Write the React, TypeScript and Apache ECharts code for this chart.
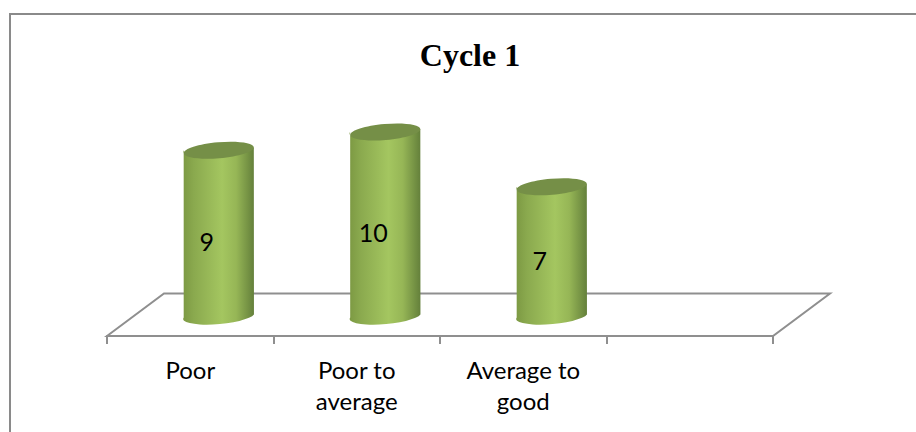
import React, { useEffect, useRef } from "react";
import * as echarts from "echarts";

const titleText = "Cycle 1";
const categories = ["Poor", "Poor to\naverage", "Average to\ngood", ""];
const values = [9, 10, 7, null];
const valueMin = -1.18;
const valueMax = 10;

const D = Math.PI / 180;

function renderFloor(params: any, api: any) {
  const c = params.coordSys;
  const bottom = c.y + c.height;
  const back = bottom - 42.5;
  const depth = 57;
  return {
    type: "polygon",
    silent: true,
    shape: {
      points: [
        [c.x, bottom],
        [c.x + depth, back],
        [c.x + c.width + depth, back],
        [c.x + c.width, bottom],
      ],
    },
    style: { fill: "#ffffff", stroke: "#8f8f8f", lineWidth: 2 },
  };
}

function renderCylinder(params: any, api: any) {
  const v = api.value(1);
  if (v == null || isNaN(v)) return null;
  const top = api.coord([api.value(0), v]);
  const base = api.coord([api.value(0), 0]);
  const cx = top[0] + 28.5;
  const a = 35.2;
  const b = 8;
  const tilt = 5;
  const dx = a * Math.cos(tilt * D);
  const dy = a * Math.sin(tilt * D);
  const d =
    `M ${cx - dx} ${top[1] + dy} L ${cx - dx} ${base[1] + dy} ` +
    `A ${a} ${b} ${-tilt} 0 0 ${cx + dx} ${base[1] - dy} ` +
    `L ${cx + dx} ${top[1] - dy} A ${a} ${b} ${-tilt} 0 1 ${cx - dx} ${top[1] + dy} Z`;
  const fill = new echarts.graphic.LinearGradient(0, 0, 1, 0, [
    { offset: 0, color: "#7c9943" },
    { offset: 0.15, color: "#8aa94e" },
    { offset: 0.55, color: "#a4c660" },
    { offset: 0.75, color: "#96b656" },
    { offset: 1, color: "#64803b" },
  ]);
  return {
    type: "group",
    children: [
      { type: "path", shape: { pathData: d }, style: { fill } },
      {
        type: "ellipse",
        x: cx,
        y: top[1],
        rotation: tilt * D,
        shape: { cx: 0, cy: 0, rx: a, ry: b },
        style: { fill: "#758f47" },
      },
      {
        type: "text",
        x: cx - 12,
        y: (top[1] + base[1]) / 2 + 9,
        style: {
          text: String(v),
          fill: "#000000",
          font: "25px Lato",
          align: "center",
          verticalAlign: "middle",
        },
      },
    ],
  };
}

export default function App() {
  const ref = useRef<HTMLDivElement>(null);
  useEffect(() => {
    const chart = echarts.init(ref.current!, null, { renderer: "svg" });
    chart.setOption({
      animation: false,
      backgroundColor: "#ffffff",
      title: {
        text: titleText,
        left: 465,
        top: 34,
        textAlign: "center",
        textStyle: {
          fontFamily: '"Liberation Serif"',
          fontWeight: "bold",
          fontSize: 32,
          color: "#000000",
        },
      },
      grid: { left: 107, right: 143, top: 132, height: 204 },
      xAxis: {
        type: "category",
        data: categories,
        axisLine: { onZero: false, lineStyle: { color: "#8f8f8f", width: 2 } },
        axisTick: { show: true, length: 8, lineStyle: { color: "#8f8f8f", width: 2 } },
        axisLabel: {
          color: "#000000",
          fontFamily: "Lato",
          fontSize: 24,
          lineHeight: 31,
          margin: 18,
          interval: 0,
        },
        z: 5,
      },
      yAxis: { type: "value", min: valueMin, max: valueMax, show: false },
      graphic: [
        {
          type: "polyline",
          silent: true,
          shape: { points: [[10, 432], [10, 14], [916, 14]] },
          style: { fill: "none", stroke: "#8a8a8a", lineWidth: 2 },
        },
      ],
      series: [
        {
          type: "custom",
          renderItem: renderFloor,
          data: [[0, 0]],
          silent: true,
          z: 1,
        },
        {
          type: "custom",
          renderItem: renderCylinder,
          data: values.map((v, i) => [i, v]),
          encode: { x: 0, y: 1 },
          silent: true,
          z: 2,
        },
      ],
    });
    return () => chart.dispose();
  }, []);
  return (
    <div
      ref={ref}
      style={{ position: "absolute", left: 0, top: 0, width: 916, height: 432 }}
    />
  );
}
